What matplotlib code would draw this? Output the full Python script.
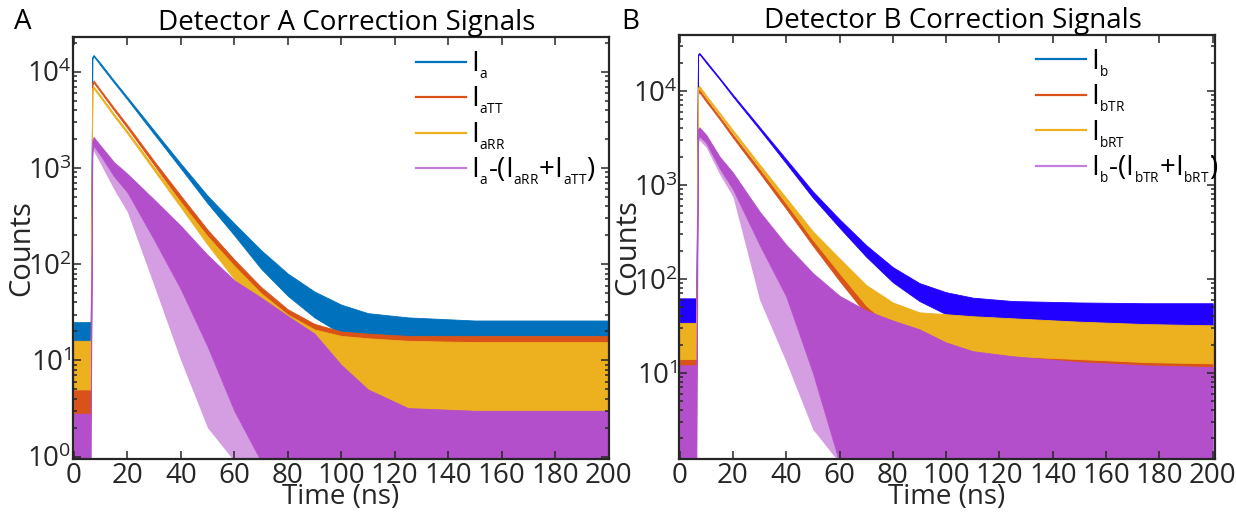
import matplotlib
matplotlib.use('Agg')
import matplotlib.pyplot as plt
from matplotlib.lines import Line2D
from matplotlib.ticker import LogLocator, MultipleLocator, NullFormatter

plt.rcParams['font.family'] = ['Open Sans', 'DejaVu Sans']
plt.rcParams['mathtext.fontset'] = 'custom'
plt.rcParams['mathtext.rm'] = 'Open Sans'
plt.rcParams['mathtext.it'] = 'Open Sans:italic'
plt.rcParams['mathtext.bf'] = 'Open Sans:bold'

# Data: noise envelopes (upper / lower), counts vs time (ns)
time_ns = [0, 6.3, 6.9, 7.4, 10, 15, 20, 30, 40, 50, 60, 70, 80, 90, 100, 110, 125, 150, 175, 200]

# Detector A
a_hi = [25, 25, 14300, 14900, 12200, 8100, 5450, 2450, 1110, 515, 265, 140, 80, 52, 38, 31, 28, 26, 26, 26]
a_lo = [15, 15, 13700, 14500, 11600, 7700, 5150, 2250, 990, 430, 200, 90, 47, 28, 19, 16, 15, 14, 14, 14]
aTT_hi = [15, 15, 7700, 8100, 6450, 4220, 2790, 1180, 515, 228, 112, 58, 34, 24, 20, 19, 18, 18, 18, 18]
aTT_lo = [2.5, 2.5, 7300, 7700, 6150, 3980, 2610, 1080, 445, 180, 76, 32, 14, 7, 4.5, 3.5, 3, 3, 3, 3]
aRR_hi = [16, 16, 6800, 7000, 5650, 3650, 2420, 1020, 440, 195, 96, 50, 30, 21, 18, 17, 16, 15.5, 15.5, 15.5]
aRR_lo = [5, 5, 6400, 6700, 5350, 3450, 2280, 940, 390, 160, 70, 30, 13, 7, 4.5, 3.5, 3, 3, 3, 3]
adiff_hi = [2.8, 2.8, 1900, 2100, 1700, 1150, 870, 470, 250, 125, 68, 45, 29, 19, 9, 5, 3.2, 3, 3, 3]
adiff_lo = [0.9, 0.9, 1500, 1700, 1350, 820, 560, 180, 55, 14, 3, 0.9, 0.9, 0.9, 0.9, 0.9, 0.9, 0.9, 0.9, 0.9]
adiff_spike = [0.9, 0.9, 1300, 1500, 1100, 600, 350, 60, 10, 2, 0.9, 0.9, 0.9, 0.9, 0.9, 0.9, 0.9, 0.9, 0.9, 0.9]

# Detector B
b_hi = [62, 62, 24400, 25300, 20600, 13700, 9100, 4120, 1870, 850, 430, 228, 133, 90, 72, 63, 58, 56, 55, 55]
b_lo = [32, 32, 23600, 24700, 19800, 13300, 8700, 3880, 1690, 730, 350, 172, 92, 58, 42, 36, 34, 33, 32, 32]
bTR_hi = [28, 28, 9800, 10300, 8150, 5300, 3420, 1460, 625, 275, 135, 68, 42, 31, 27, 25, 24, 23, 23, 22]
bTR_lo = [9, 9, 9200, 9700, 7650, 5000, 3180, 1340, 555, 225, 95, 42, 22, 14, 11, 10, 9.5, 9, 8.5, 8.5]
bRT_hi = [34, 34, 10800, 11300, 8950, 5850, 3820, 1650, 725, 320, 165, 86, 56, 44, 42, 40, 38, 35, 33, 32]
bRT_lo = [14, 14, 10200, 10700, 8450, 5550, 3580, 1510, 635, 260, 115, 52, 30, 20, 18, 16, 15, 14, 13, 12.6]
bdiff_hi = [12, 12, 3900, 4100, 3400, 2000, 1350, 520, 230, 115, 66, 46, 36, 29, 21, 17, 15, 13, 12, 11.5]
bdiff_lo = [1.1, 1.1, 3000, 3300, 2800, 1500, 900, 230, 65, 10, 1.1, 1.1, 1.1, 1.1, 1.1, 1.1, 1.1, 1.1, 1.1, 1.1]
bdiff_spike = [1.1, 1.1, 2700, 3000, 2500, 1300, 750, 60, 13, 2.5, 1.1, 1.1, 1.1, 1.1, 1.1, 1.1, 1.1, 1.1, 1.1, 1.1]


def sub(s):
    # small, low subscript like the original figure
    return '{}_{' + s + '}'


labels_a = [r'$\mathregular{I_{%s}}$' % sub('a'),
            r'$\mathregular{I_{%s}}$' % sub('aTT'),
            r'$\mathregular{I_{%s}}$' % sub('aRR'),
            r'$\mathregular{I_{%s}\text{-(}I_{%s}\text{+}I_{%s}\text{)}}$' % (sub('a'), sub('aRR'), sub('aTT'))]
labels_b = [r'$\mathregular{I_{%s}}$' % sub('b'),
            r'$\mathregular{I_{%s}}$' % sub('bTR'),
            r'$\mathregular{I_{%s}}$' % sub('bRT'),
            r'$\mathregular{I_{%s}\text{-(}I_{%s}\text{+}I_{%s}\text{)}}$' % (sub('b'), sub('bTR'), sub('bRT'))]

blue = '#0072BD'
blue_b = '#2200FF'
orange = '#D95319'
yellow = '#EDB120'
purple = '#B44FCB'
legend_colors = [blue, orange, yellow, '#C47EDB']
dark = '#262626'

fig = plt.figure(figsize=(12.36, 5.12), dpi=100)
axA = fig.add_axes([0.0591, 0.1035, 0.4337, 0.8236])
axB = fig.add_axes([0.5494, 0.1035, 0.4337, 0.8280])


def draw(ax, bands, spike, ylim, xlim, labels, title, letter, letter_x, leg_x):
    for lo, hi, c in bands:
        ax.fill_between(time_ns, lo, hi, color=c, lw=0.6, edgecolor=c)
    # sparse downward spikes of the difference signal
    ax.fill_between(time_ns, spike[0], spike[1], color=purple, alpha=0.55, lw=0)
    ax.set_yscale('log')
    ax.set_xlim(*xlim)
    ax.set_ylim(*ylim)
    ax.xaxis.set_major_locator(MultipleLocator(20))
    ax.yaxis.set_major_locator(LogLocator(base=10, numticks=10))
    ax.yaxis.set_minor_locator(LogLocator(base=10, subs=range(2, 10), numticks=20))
    ax.yaxis.set_minor_formatter(NullFormatter())
    ax.tick_params(which='both', direction='in', top=True, right=True, colors=dark,
                   labelsize=20, width=1.1)
    ax.tick_params(which='major', length=6, pad=2)
    ax.tick_params(which='minor', length=3)
    ax.tick_params(axis='y', pad=1)
    for s in ax.spines.values():
        s.set_linewidth(1.6)
        s.set_color(dark)
    ax.set_xlabel('Time (ns)', fontsize=20, color=dark, labelpad=-5)
    ax.set_ylabel('Counts', fontsize=21, color=dark)
    ax.yaxis.set_label_coords(-0.068, 0.5)
    ax.set_title(title, fontsize=20, color='black', pad=5, x=0.51)
    handles = [Line2D([], [], color=c, lw=1.6) for c in legend_colors]
    ax.legend(handles, labels, loc='upper left', bbox_to_anchor=(leg_x, 1.008),
              frameon=False, fontsize=20, handlelength=1.8, handletextpad=0.15,
              labelspacing=0.14, borderaxespad=0.15)
    fig.text(letter_x, 0.985, letter, fontsize=20, va='top', ha='left', color='black')


draw(axA,
     [(a_lo, a_hi, blue), (aTT_lo, aTT_hi, orange), (aRR_lo, aRR_hi, yellow),
      (adiff_lo, adiff_hi, purple)],
     (adiff_spike, adiff_lo), (0.946, 22760), (-0.3, 200.2), labels_a,
     'Detector A Correction Signals', 'A', 0.011, 0.612)
draw(axB,
     [(b_lo, b_hi, blue_b), (bTR_lo, bTR_hi, orange), (bRT_lo, bRT_hi, yellow),
      (bdiff_lo, bdiff_hi, purple)],
     (bdiff_spike, bdiff_lo), (1.21, 39200), (-0.2, 200.9), labels_b,
     'Detector B Correction Signals', 'B', 0.503, 0.638)

fig.savefig('out.png', dpi=100)
